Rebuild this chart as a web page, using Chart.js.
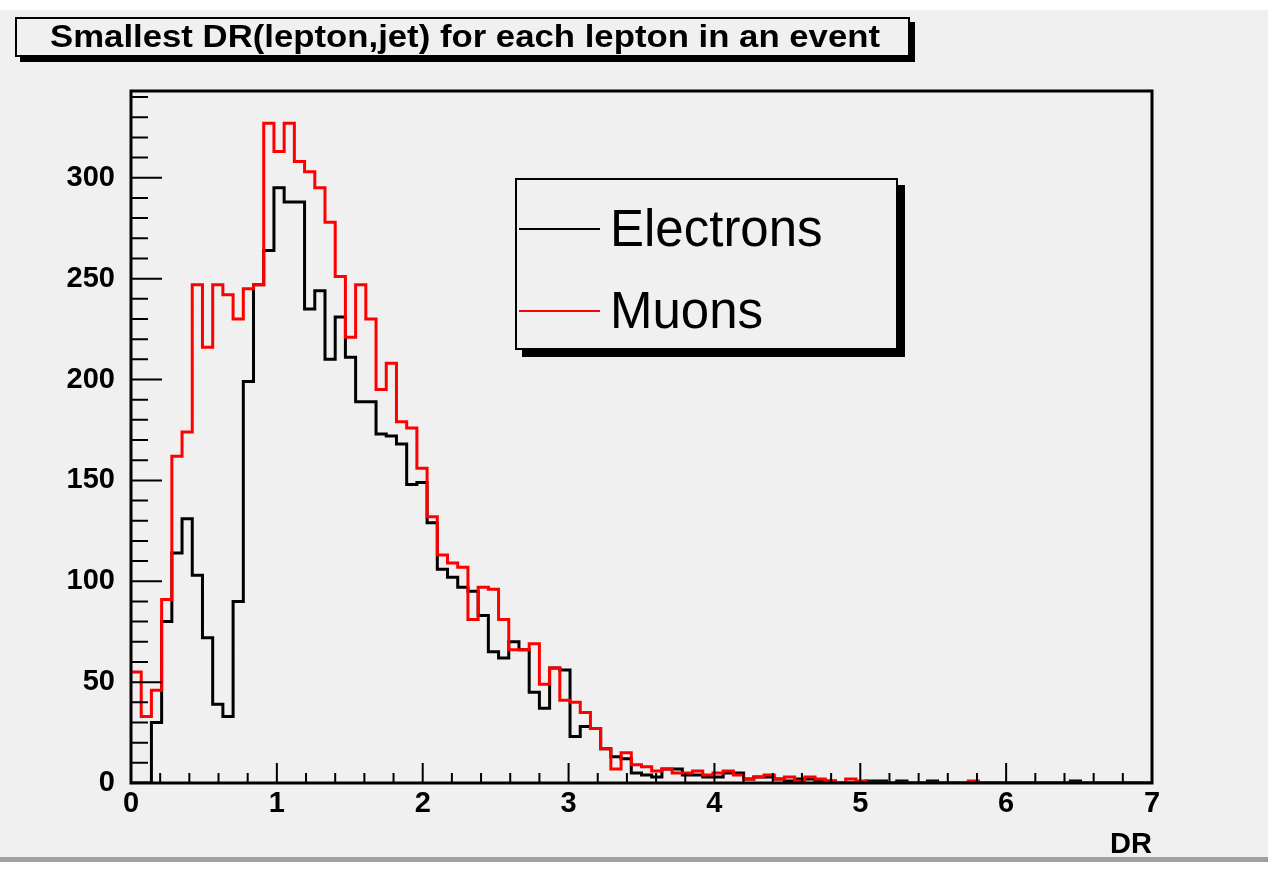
<!DOCTYPE html>
<html>
<head>
<meta charset="utf-8">
<script src="https://cdn.jsdelivr.net/npm/chart.js@4/dist/chart.umd.min.js"></script>
<style>
  body { margin: 0; background: #fff; }
  #pad { position: absolute; left: 0; top: 10px; width: 1268px; height: 847px; background: #f0f0f0; border-bottom: 5px solid #a0a0a0; }
  #wrap { position: absolute; left: 0; top: 0; width: 1268px; height: 874px; }
  .box { position: absolute; background: #f0f0f0; border: 2px solid #000; box-sizing: border-box; }
  #title { left: 15px; top: 17px; width: 895px; height: 40px; box-shadow: 5px 5px 0 #000; }
  #title span { position: absolute; left: 33px; top: 0px; font: bold 31px "Liberation Sans", Arial, sans-serif; white-space: nowrap; transform-origin: 0 50%; }
  #legend { left: 515px; top: 178px; width: 383px; height: 172px; box-shadow: 7px 7px 0 #000; }
  .item { position: absolute; left: 0; height: 60px; }
  .item i { position: absolute; left: 2px; top: 29px; width: 81px; height: 2px; }
  .item span { position: absolute; left: 93px; top: 0; font: 51px "Liberation Sans", Arial, sans-serif; line-height: 60px; white-space: nowrap; }
</style>
</head>
<body>
<div id="pad"></div>
<div id="wrap"><canvas id="histChart" width="1268" height="874"></canvas></div>
<div class="box" id="title"><span id="titleText">Smallest DR(lepton,jet) for each lepton in an event</span></div>
<div class="box" id="legend">
  <div class="item" style="top:19px"><i style="background:#000"></i><span>Electrons</span></div>
  <div class="item" style="top:101px"><i style="background:#ff0000"></i><span>Muons</span></div>
</div>
<script>
// 100 bins, DR from 0 to 7
const xMin = 0;
const xMax = 7;
const yMax = 343;
const xTicks = [0, 1, 2, 3, 4, 5, 6, 7];
const yTicks = [0, 50, 100, 150, 200, 250, 300];

const electrons = [
  0, 0, 30, 80, 114, 131, 103, 72, 39, 33,
  90, 199, 247, 264, 295, 288, 288, 235, 244, 210,
  231, 211, 189, 189, 173, 172, 168, 148, 149, 129,
  106, 102, 97, 95, 83, 65, 62, 70, 66, 45,
  37, 57, 56, 23, 28, 27, 17, 13, 12, 5,
  4, 3, 7, 7, 4, 4, 3, 3, 5, 5,
  2, 3, 3, 2, 1, 2, 2, 1, 1, 0,
  0, 0, 1, 1, 0, 1, 0, 0, 1, 0,
  0, 0, 0, 0, 0, 0, 0, 0, 0, 0,
  0, 0, 1, 0, 0, 0, 0, 0, 0, 0
];

const muons = [
  55, 33, 46, 91, 162, 174, 247, 216, 247, 242,
  230, 245, 247, 327, 313, 327, 308, 303, 295, 278,
  251, 221, 247, 230, 195, 208, 179, 176, 156, 132,
  113, 109, 107, 81, 97, 96, 81, 66, 66, 69,
  49, 57, 41, 40, 35, 27, 17, 7, 15, 9,
  8, 6, 7, 5, 5, 6, 4, 5, 6, 4,
  2, 3, 4, 2, 3, 1, 3, 2, 1, 0,
  2, 1, 0, 0, 0, 0, 0, 0, 0, 0,
  0, 0, 1, 0, 0, 0, 0, 0, 0, 0,
  0, 0, 0, 0, 0, 0, 0, 0, 0, 0
];

const binWidth = (xMax - xMin) / electrons.length;

// left edge of every bin, plus the closing point at the upper edge
function toSteps(values) {
  const pts = values.map((v, i) => ({ x: xMin + i * binWidth, y: v }));
  pts.push({ x: xMax, y: values[values.length - 1] });
  return pts;
}

const tickFont = { family: '"Liberation Sans", Arial, sans-serif', size: 29, weight: 'bold' };

// ROOT-style frame: box plus ticks pointing into the pad
const frameTicks = {
  id: 'frameTicks',
  afterDatasetsDraw(chart) {
    const { ctx, chartArea: a, scales: { x, y } } = chart;
    ctx.save();
    ctx.strokeStyle = '#000';
    ctx.lineWidth = 2;
    ctx.beginPath();
    for (let i = 0; i <= 35; i++) {
      const px = x.getPixelForValue(i * 0.2);
      ctx.moveTo(px, a.bottom);
      ctx.lineTo(px, a.bottom - (i % 5 === 0 ? 20 : 10));
    }
    for (let i = 0; i <= 34; i++) {
      const py = y.getPixelForValue(i * 10);
      ctx.moveTo(a.left, py);
      ctx.lineTo(a.left + (i % 5 === 0 ? 31 : 17), py);
    }
    ctx.stroke();
    ctx.lineWidth = 3;
    ctx.strokeRect(a.left, a.top, a.right - a.left, a.bottom - a.top);
    ctx.restore();
  }
};

const ctx = document.getElementById('histChart').getContext('2d');
new Chart(ctx, {
  type: 'line',
  data: {
    datasets: [
      { label: 'Muons', data: toSteps(muons), borderColor: '#ff0000', borderWidth: 3, stepped: 'before', pointRadius: 0, fill: false },
      { label: 'Electrons', data: toSteps(electrons), borderColor: '#000000', borderWidth: 3, stepped: 'before', pointRadius: 0, fill: false }
    ]
  },
  options: {
    responsive: false,
    animation: false,
    events: [],
    layout: { padding: { left: 0, top: 91, right: 116, bottom: 0 } },
    plugins: { legend: { display: false }, tooltip: { enabled: false } },
    scales: {
      x: {
        type: 'linear', min: xMin, max: xMax,
        grid: { display: false, drawTicks: false },
        border: { display: false },
        afterBuildTicks: s => { s.ticks = xTicks.map(v => ({ value: v })); },
        afterFit: s => { s.height = 91; },
        ticks: { color: '#000', font: tickFont, padding: 4, maxRotation: 0, autoSkip: false },
        title: { display: true, text: 'DR', align: 'end', color: '#000', font: tickFont, padding: { top: 0, bottom: 12 } }
      },
      y: {
        type: 'linear', min: 0, max: yMax,
        grid: { display: false, drawTicks: false },
        border: { display: false },
        afterBuildTicks: s => { s.ticks = yTicks.map(v => ({ value: v })); },
        afterFit: s => { s.width = 131; },
        ticks: { color: '#000', font: tickFont, padding: 16, autoSkip: false }
      }
    }
  },
  plugins: [frameTicks]
});

// squeeze the title into the width it has in the original
const t = document.getElementById('titleText');
t.style.transform = 'scaleX(' + (830 / t.getBoundingClientRect().width) + ')';
</script>
</body>
</html>
